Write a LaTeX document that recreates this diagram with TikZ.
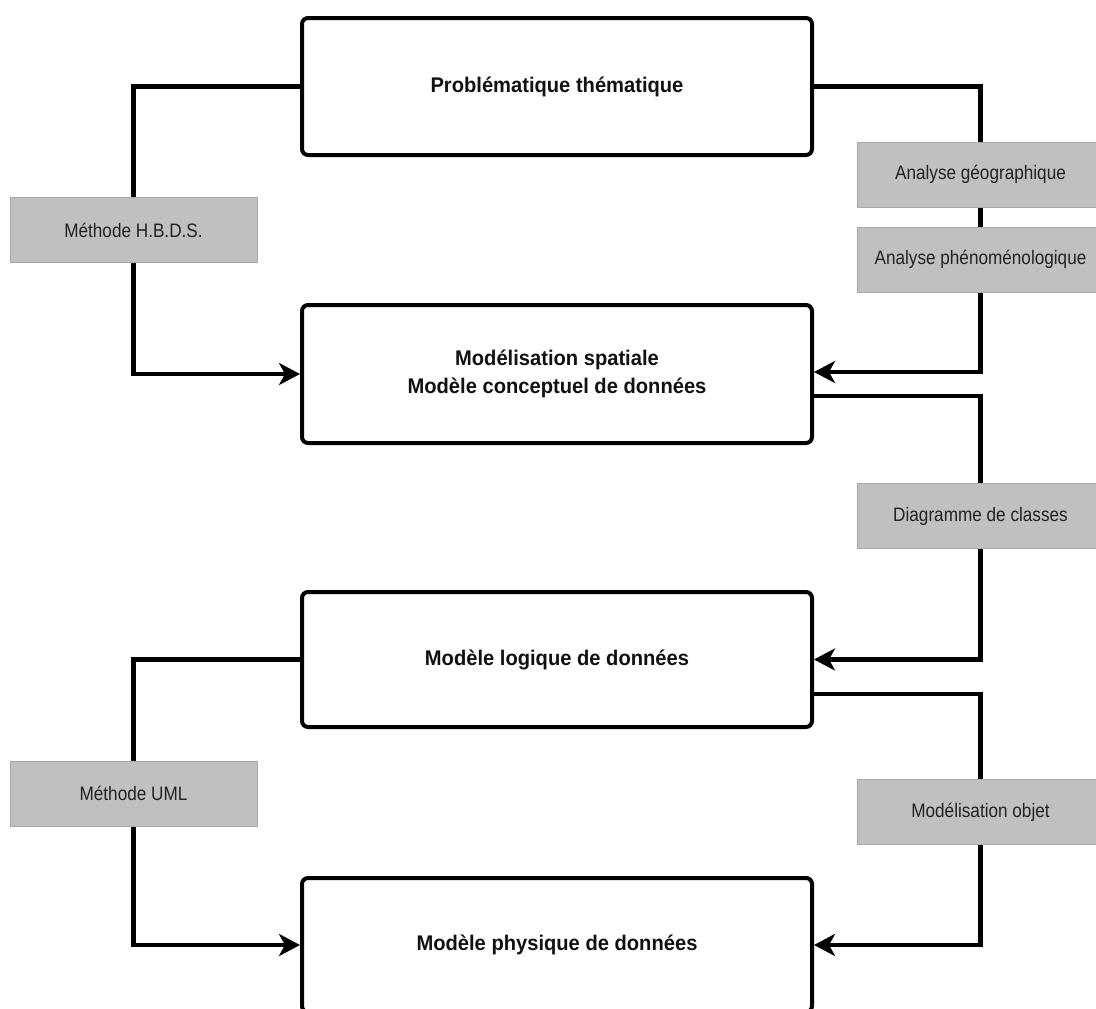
\documentclass[tikz,border=0pt]{standalone}
\usepackage{fontspec}
\setmainfont{Liberation Sans}
\newfontfamily\boxfont[FakeStretch=0.95]{Liberation Sans}
\newfontfamily\labfont[FakeStretch=0.88]{Liberation Sans}
\usetikzlibrary{arrows.meta}
\pgfdeclarelayer{bg}
\pgfsetlayers{bg,main}
\definecolor{labelgray}{HTML}{C0C0C0}
\definecolor{labeledge}{HTML}{A8A8A8}
\definecolor{labtext}{HTML}{222222}
\definecolor{boxtext}{HTML}{111111}
\begin{document}
\begin{tikzpicture}[x=1pt,y=-1pt,
  box/.style={draw=black, line width=4pt, rounded corners=6pt, fill=white,
    minimum width=510pt, minimum height=137pt, inner sep=0pt, align=center,
    font=\boxfont\bfseries\fontsize{21.2}{28}\selectfont, text=boxtext},
  lab/.style={fill=labelgray, draw=labeledge, line width=0.8pt,
    minimum width=247pt, minimum height=65pt, inner sep=0pt,
    font=\labfont\fontsize{19.5}{23}\selectfont, text=labtext},
  conn/.style={draw=black, line width=4.2pt},
  arr/.style={conn, -{Stealth[length=21pt,width=22pt,inset=6pt]}}
]
\useasboundingbox (0,0) rectangle (1096,1009);
\clip (0,0) rectangle (1096,1009);

% main boxes
\node[box] (b1) at (557,86.5) {Problématique thématique};
\node[box, minimum height=138pt] (b2) at (557,374) {Modélisation spatiale\\Modèle conceptuel de données};
\node[box, minimum height=135pt] (b3) at (557,659.5) {Modèle logique de données};
\node[box, minimum height=134pt] (b4) at (557,945) {Modèle physique de données};

% labels
\node[lab] (l1) at (133.5,230) {Méthode H.B.D.S.};
\node[lab] (l2) at (133.5,793.5) {Méthode UML};
\node[lab] (r1) at (980.5,174.5) {Analyse géographique};
\node[lab] (r2) at (980.5,259.5) {Analyse phénoménologique};
\node[lab] (r3) at (980.5,516) {Diagramme de classes};
\node[lab] (r4) at (980.5,812) {Modélisation objet};

% connectors
\begin{pgfonlayer}{bg}
\fill[white] (0,0) rectangle (1096,1009);
\draw[arr] (b1.west) -| (l1.center) |- (b2.west);
\draw[arr] (b3.west) -| (l2.center) |- (b4.west);
\draw[arr] (b1.east) -| (r1.center) -- (r2.center) |- ([yshift=2pt]b2.east);
\draw[arr] ([yshift=-22pt]b2.east) -| (r3.center) |- (b3.east);
\draw[arr] ([yshift=-34.5pt]b3.east) -| (r4.center) |- (b4.east);
\end{pgfonlayer}
\end{tikzpicture}
\end{document}
